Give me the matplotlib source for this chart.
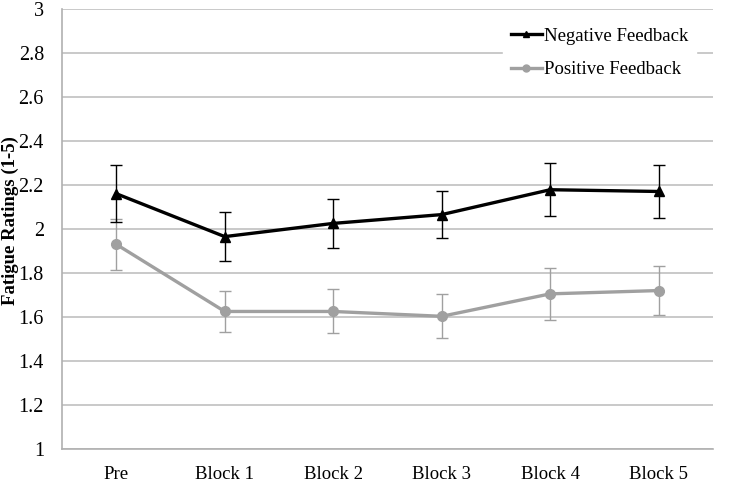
import matplotlib.pyplot as plt
from matplotlib.lines import Line2D
import numpy as np

# values
blocks = ["Pre", "Block 1", "Block 2", "Block 3", "Block 4", "Block 5"]
neg_mean = [2.16, 1.965, 2.025, 2.065, 2.178, 2.17]
neg_err = [0.13, 0.11, 0.113, 0.107, 0.12, 0.12]
pos_mean = [1.93, 1.625, 1.625, 1.603, 1.705, 1.72]
pos_err = [0.115, 0.092, 0.1, 0.1, 0.118, 0.11]

plt.rcParams['font.family'] = ['Liberation Serif', 'DejaVu Serif']

fig = plt.figure(figsize=(7.29, 4.86), dpi=100)
ax = fig.add_axes([0.085, 0.076, 0.893, 0.906])

x = np.arange(len(blocks))
gray = "#a0a0a0"

ax.errorbar(x, neg_mean, yerr=neg_err, color="black", lw=2.4, marker="^",
            ms=7, capsize=4.5, elinewidth=1.0, capthick=1.0, zorder=4)
ax.errorbar(x, pos_mean, yerr=pos_err, color=gray, lw=2.4, marker="o",
            ms=7, capsize=4.5, elinewidth=1.0, capthick=1.0, zorder=3)

ax.set_xlim(-0.5, 5.5)
ax.set_ylim(1, 3)
ax.set_yticks(np.arange(1, 3.01, 0.2))
ax.set_yticklabels(["1", "1.2", "1.4", "1.6", "1.8", "2", "2.2", "2.4", "2.6", "2.8", "3"])
ax.set_xticks(x)
ax.set_xticklabels(blocks)
ax.tick_params(axis="y", length=0, labelsize=14.5, pad=13)
ax.tick_params(axis="x", length=0, labelsize=13.5, pad=12)

ax.grid(axis="y", color="#c0c0c0", lw=1.2, zorder=0)
ax.set_axisbelow(True)
for s in ["top", "right"]:
    ax.spines[s].set_visible(False)
for s in ["left", "bottom"]:
    ax.spines[s].set_color("#b0b0b0")
    ax.spines[s].set_linewidth(1.2)

fig.text(0.002, 0.547, "Fatigue Ratings (1-5)", rotation=90, fontsize=13.5,
         fontweight="bold", ha="left", va="center")

handles = [Line2D([], [], color="black", lw=2.4, marker="^", ms=5),
           Line2D([], [], color=gray, lw=2.4, marker="o", ms=5)]
leg = ax.legend(handles, ["Negative Feedback", "Positive Feedback"],
                loc="upper right", bbox_to_anchor=(0.955, 0.958),
                bbox_transform=fig.transFigure, frameon=True,
                fontsize=13.5, handlelength=1.65, handletextpad=0.15,
                labelspacing=0.85, borderaxespad=0)
leg.get_frame().set_edgecolor("white")
leg.get_frame().set_facecolor("white")
leg.get_frame().set_alpha(1)

fig.savefig("out.png", dpi=100)
